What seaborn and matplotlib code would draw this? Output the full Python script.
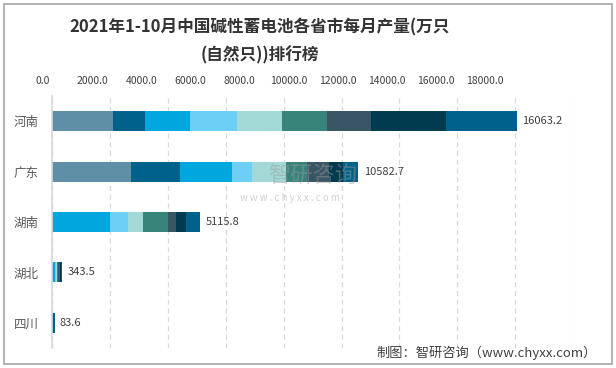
import numpy as np
import pandas as pd
import seaborn as sns
import matplotlib.pyplot as plt
from matplotlib.patches import Rectangle

sns.set_style('white')
plt.rcParams['font.family'] = ['Noto Sans CJK SC', 'DejaVu Sans']

# data (万只), stacked by month
provinces = ['河南', '广东', '湖南', '湖北', '四川']
months = ['1-2月', '3月', '4月', '5月', '6月', '7月', '8月', '9月', '10月']
henan = [2098, 1106, 1555, 1625, 1555, 1555, 1521, 2592, 2456.2]
guangdong = [2720, 1694, 1797, 691, 1175, 726, 760, 484, 535.7]
hunan = [0, 0, 1994, 622, 518, 864, 277, 346, 494.8]
hubei = [0, 0, 100, 40, 20, 30, 60, 60, 33.5]
sichuan = [0, 0, 0, 0, 0, 0, 0, 0, 83.6]
colors = ['#5E8FA6', '#00628B', '#00A6DE', '#6DCFF6', '#A2D9D7',
          '#38847B', '#3A5563', '#003B4F', '#00628B']
xticks = np.arange(0, 18001, 2000)

df = pd.DataFrame([henan, guangdong, hunan, hubei, sichuan],
                  index=provinces, columns=months)
cum = df.cumsum(axis=1)

fig = plt.figure(figsize=(6.16, 3.68), dpi=100)
ax = fig.add_axes([52.3 / 616, 1 - 348 / 368, (573 - 52.3) / 616, (348 - 96) / 368])

# overlay cumulative bars, last month first
for i in range(len(months) - 1, -1, -1):
    d = pd.DataFrame({'prov': provinces, 'val': cum[months[i]].values})
    sns.barplot(data=d, x='val', y='prov', orient='h', color=colors[i],
                width=0.4, saturation=1, linewidth=0, ax=ax)

totals = df.sum(axis=1)
for j, p in enumerate(provinces):
    ax.text(totals[p] + 180, j, f'{totals[p]:.1f}', va='center', ha='left',
            fontsize=8, color='#404040')

ax.set_xlim(0, 18000)
ax.set_ylim(4.5, -0.5)
ax.set_xticks(xticks)
ax.set_xticklabels([])
ax.tick_params(axis='x', length=0)
ax.grid(axis='x', color='#D9D9D9', linestyle=(0, (4, 3)), linewidth=0.9)
ax.set_axisbelow(True)
for s in ['top', 'right', 'bottom']:
    ax.spines[s].set_visible(False)
ax.spines['left'].set_color('#D9D9D9')
ax.spines['left'].set_linewidth(1.2)
ax.set_xlabel('')
ax.set_ylabel('')
ax.tick_params(axis='y', length=0, pad=10, labelsize=9, labelcolor='#595959')

# tick-label axis at the top (offset as in the original)
lab = fig.add_axes([43 / 616, 1 - 348 / 368, (485 - 43) / 616, (348 - 96) / 368])
lab.patch.set_alpha(0)
lab.set_xlim(0, 18000)
lab.set_xticks(xticks)
lab.set_xticklabels([f'{v:.1f}' for v in xticks], fontsize=7.5, color='#404040')
lab.xaxis.tick_top()
lab.tick_params(axis='x', length=0, pad=7)
lab.set_yticks([])
for s in lab.spines.values():
    s.set_visible(False)

fig.text(260 / 616, 1 - 41 / 368, '2021年1-10月中国碱性蓄电池各省市每月产量(万只\n(自然只))排行榜',
         ha='center', va='center', fontsize=12, fontweight='bold',
         color='#333333', linespacing=1.65)

# watermark
fig.text(268 / 616, 1 - 176 / 368, '智研咨询', fontsize=16, color='#9A9A9A',
         alpha=0.45, ha='left', va='center')
fig.text(240 / 616, 1 - 198 / 368, 'w w w . c h y x x . c o m', fontsize=7,
         color='#9A9A9A', alpha=0.45, ha='left', va='center')

fig.text(597 / 616, 1 - 353 / 368, '制图：智研咨询（www.chyxx.com）', ha='right',
         va='center', fontsize=9.5, color='#404040')

fig.add_artist(Rectangle((4 / 616, 4 / 368), 608 / 616, 360 / 368,
                         transform=fig.transFigure, fill=False,
                         edgecolor='#A6A6A6', linewidth=1.2))

fig.savefig('out.png', dpi=100)
